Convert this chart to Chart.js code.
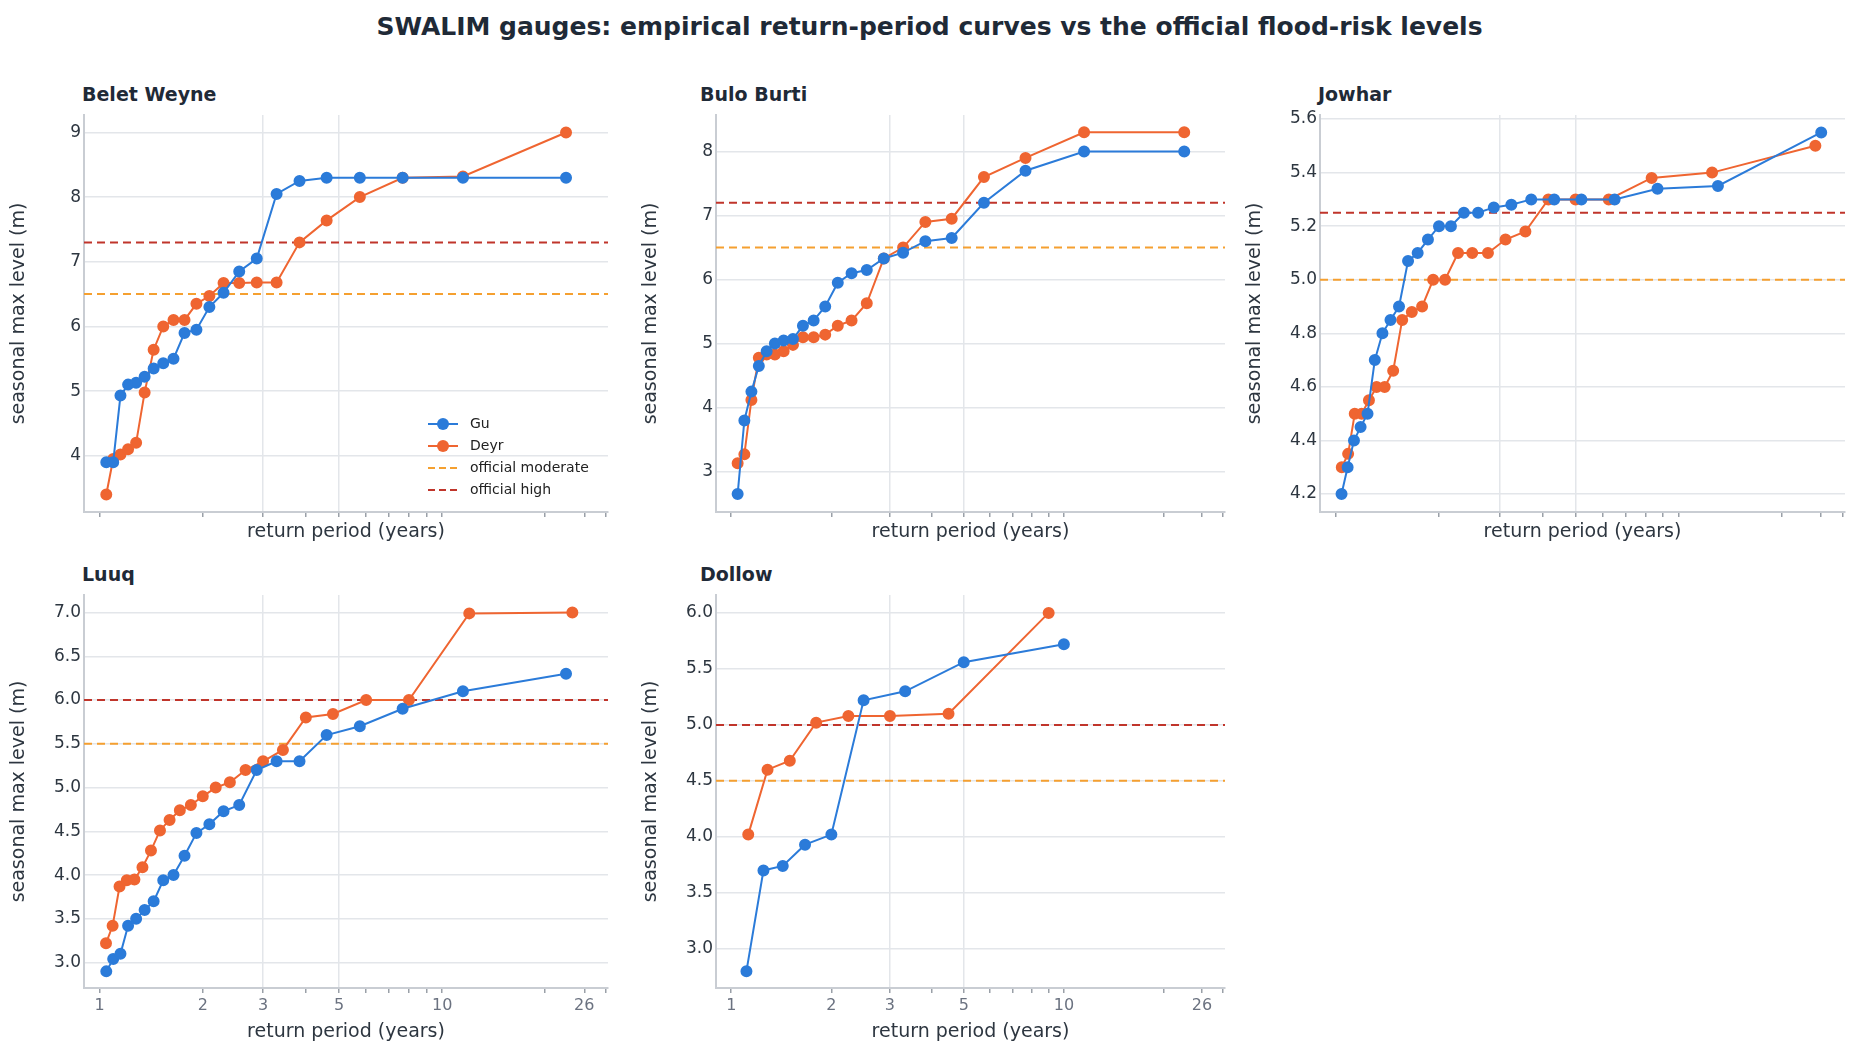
<!DOCTYPE html>
<html>
<head>
<meta charset="utf-8">
<script src="https://cdn.jsdelivr.net/npm/chart.js@4.4.1/dist/chart.umd.min.js"></script>
<style>
  body { margin: 0; background: #fff; font-family: "DejaVu Sans", sans-serif; }
  #title { position: absolute; left: 0; width: 1859px; top: 12px; text-align: center;
           font-weight: bold; font-size: 25px; color: #1f2a37; }
  .panel { position: absolute; }
  .ptitle { position: absolute; font-weight: bold; font-size: 19px; color: #1f2a37; }
</style>
</head>
<body>
<div id="title">SWALIM gauges: empirical return-period curves vs the official flood-risk levels</div>
<div class="ptitle" style="left:82px;top:83px">Belet Weyne</div>
<div class="ptitle" style="left:700px;top:83px">Bulo Burti</div>
<div class="ptitle" style="left:1318px;top:83px">Jowhar</div>
<div class="ptitle" style="left:82px;top:563px">Luuq</div>
<div class="ptitle" style="left:700px;top:563px">Dollow</div>
<div class="panel" style="left:0px;top:80px;width:620px;height:467px"><canvas id="c0"></canvas></div>
<div class="panel" style="left:632px;top:80px;width:605px;height:467px"><canvas id="c1"></canvas></div>
<div class="panel" style="left:1236px;top:80px;width:621px;height:467px"><canvas id="c2"></canvas></div>
<div class="panel" style="left:0px;top:560px;width:620px;height:487px"><canvas id="c3"></canvas></div>
<div class="panel" style="left:632px;top:560px;width:605px;height:487px"><canvas id="c4"></canvas></div>
<script>
// seasonal maxima, sorted ascending (m)
var beletGu   = [3.9,3.9,4.93,5.1,5.13,5.22,5.35,5.43,5.5,5.9,5.95,6.3,6.52,6.85,7.05,8.05,8.25,8.3,8.3,8.3,8.3,8.3];
var beletDeyr = [3.4,3.95,4.02,4.1,4.2,4.98,5.64,6.0,6.1,6.1,6.35,6.47,6.67,6.67,6.68,6.68,7.3,7.64,8.0,8.3,8.32,9.0];
var buloGu    = [2.65,3.8,4.25,4.65,4.88,5.0,5.05,5.07,5.28,5.36,5.58,5.95,6.1,6.15,6.33,6.42,6.6,6.65,7.2,7.7,8.0,8.0];
var buloDeyr  = [3.13,3.27,4.12,4.78,4.83,4.83,4.88,4.98,5.1,5.1,5.14,5.28,5.36,5.63,6.33,6.5,6.9,6.95,7.6,7.9,8.3,8.3];
var jowharGu  = [4.2,4.3,4.4,4.45,4.5,4.7,4.8,4.85,4.9,5.07,5.1,5.15,5.2,5.2,5.25,5.25,5.27,5.28,5.3,5.3,5.3,5.3,5.34,5.35,5.55];
var jowharDeyr= [4.3,4.35,4.5,4.5,4.55,4.6,4.6,4.66,4.85,4.88,4.9,5.0,5.0,5.1,5.1,5.1,5.15,5.18,5.3,5.3,5.3,5.38,5.4,5.5];
var luuqGu    = [2.9,3.04,3.1,3.42,3.5,3.6,3.7,3.94,4.0,4.22,4.48,4.58,4.73,4.8,5.2,5.3,5.3,5.6,5.7,5.9,6.1,6.3];
var luuqDeyr  = [3.22,3.42,3.87,3.94,3.95,4.09,4.28,4.51,4.63,4.74,4.8,4.9,5.0,5.06,5.2,5.3,5.43,5.8,5.84,6.0,6.0,6.99,7.0];
var dollowGu  = [2.8,3.7,3.74,3.93,4.02,5.22,5.3,5.56,5.72];
var dollowDeyr= [4.02,4.6,4.68,5.02,5.08,5.08,5.1,6.0];

var stations  = ["Belet Weyne","Bulo Burti","Jowhar","Luuq","Dollow"];
var guSeries  = [beletGu, buloGu, jowharGu, luuqGu, dollowGu];
var deyrSeries= [beletDeyr, buloDeyr, jowharDeyr, luuqDeyr, dollowDeyr];
var moderate  = [6.5, 6.5, 5.0, 5.5, 4.5];
var high      = [7.3, 7.2, 5.25, 6.0, 5.0];
var yMin = [3.13, 2.37, 4.133, 2.71, 2.65];
var yMax = [9.27, 8.57, 5.615, 7.2, 6.16];
var yStep = [1, 1, 0.2, 0.5, 0.5];
var xTicks = [1,2,3,4,5,6,7,8,9,10,20,26,30];
var xLabels = [1,2,3,5,10,26];
var xMin = 0.9, xMax = 30.5;

var GU = "#2b7bd9", DEYR = "#ef6531", MOD = "#f5a030", HIGH = "#c0352b";
var TXT = "#2d3640", GRID = "#e3e6ea";

// empirical return period: (n+1)/rank, rank 1 = largest
function points(vals) {
  var n = vals.length;
  return vals.map(function(v, i) { return {x: (n + 1) / (n - i), y: v}; });
}

var legendPlugin = {
  id: 'insideLegend',
  afterDraw: function(chart) {
    if (!chart.options.plugins.insideLegend.show) return;
    var ctx = chart.ctx, a = chart.chartArea;
    var items = [["Gu", GU, false], ["Deyr", DEYR, false], ["official moderate", MOD, true], ["official high", HIGH, true]];
    var x0 = a.right - 180, y0 = a.bottom - 88;
    ctx.save();
    ctx.font = "14px 'DejaVu Sans'";
    ctx.textBaseline = "middle";
    items.forEach(function(it, i) {
      var y = y0 + i * 22;
      ctx.strokeStyle = it[1]; ctx.lineWidth = 2;
      ctx.setLineDash(it[2] ? [7, 4] : []);
      ctx.beginPath(); ctx.moveTo(x0, y); ctx.lineTo(x0 + 30, y); ctx.stroke();
      ctx.setLineDash([]);
      if (!it[2]) {
        ctx.fillStyle = it[1];
        ctx.beginPath(); ctx.arc(x0 + 15, y, 6, 0, Math.PI * 2); ctx.fill();
      }
      ctx.fillStyle = "#222";
      ctx.fillText(it[0], x0 + 42, y);
    });
    ctx.restore();
  }
};

stations.forEach(function(name, k) {
  var topRow = k < 3;
  var hLine = function(v, c, lbl) {
    return { label: lbl, data: [{x: xMin, y: v}, {x: xMax, y: v}], borderColor: c,
             borderWidth: 2, borderDash: [8, 5], pointRadius: 0, order: 3 };
  };
  new Chart(document.getElementById("c" + k), {
    type: 'line',
    data: {
      datasets: [
        { label: "Gu", data: points(guSeries[k]), borderColor: GU, backgroundColor: GU,
          borderWidth: 2, pointRadius: 5, pointHoverRadius: 5, order: 1 },
        { label: "Deyr", data: points(deyrSeries[k]), borderColor: DEYR, backgroundColor: DEYR,
          borderWidth: 2, pointRadius: 5, pointHoverRadius: 5, order: 2 },
        hLine(moderate[k], MOD, "official moderate"),
        hLine(high[k], HIGH, "official high")
      ]
    },
    options: {
      responsive: true, maintainAspectRatio: false, animation: false,
      layout: { padding: { right: 12, left: 4, top: 35 } },
      plugins: {
        legend: { display: false },
        tooltip: { enabled: false },
        insideLegend: { show: k === 0 },
        title: { display: false }
      },
      scales: {
        x: {
          type: 'logarithmic', min: xMin, max: xMax,
          afterBuildTicks: function(ax) { ax.ticks = xTicks.map(function(v) { return {value: v}; }); },
          ticks: {
            autoSkip: false, maxRotation: 0, color: "#6b7280",
            padding: topRow ? 0 : 3,
            font: { family: "DejaVu Sans", size: topRow ? 1 : 16 },
            callback: function(v) { return (!topRow && xLabels.indexOf(v) >= 0) ? String(v) : ""; }
          },
          grid: {
            color: function(c) { return (c.tick && (c.tick.value === 3 || c.tick.value === 5)) ? GRID : "rgba(0,0,0,0)"; },
            tickColor: "#9aa0a8", tickLength: 5, lineWidth: 1.5
          },
          border: { color: "#c9cdd3", width: 2 },
          title: { display: true, text: "return period (years)", color: TXT,
                   font: { family: "DejaVu Sans", size: 19 }, padding: { top: 2 } }
        },
        y: {
          min: yMin[k], max: yMax[k],
          afterFit: function(ax) { ax.width = 80; },
          afterBuildTicks: function(ax) {
            var t = [], s = yStep[k];
            for (var v = Math.ceil(yMin[k] / s - 1e-9) * s; v <= yMax[k] + 1e-9; v += s) t.push({value: +v.toFixed(2)});
            ax.ticks = t;
          },
          ticks: { color: TXT, font: { family: "DejaVu Sans", size: 17 },
                   callback: function(v) { return yStep[k] === 1 ? String(v) : v.toFixed(1); } },
          grid: { color: GRID, lineWidth: 1.5, drawTicks: false },
          border: { color: "#c9cdd3", width: 2 },
          title: { display: true, text: "seasonal max level (m)", color: TXT,
                   font: { family: "DejaVu Sans", size: 19 } }
        }
      }
    },
    plugins: [legendPlugin]
  });
});
</script>
</body>
</html>
